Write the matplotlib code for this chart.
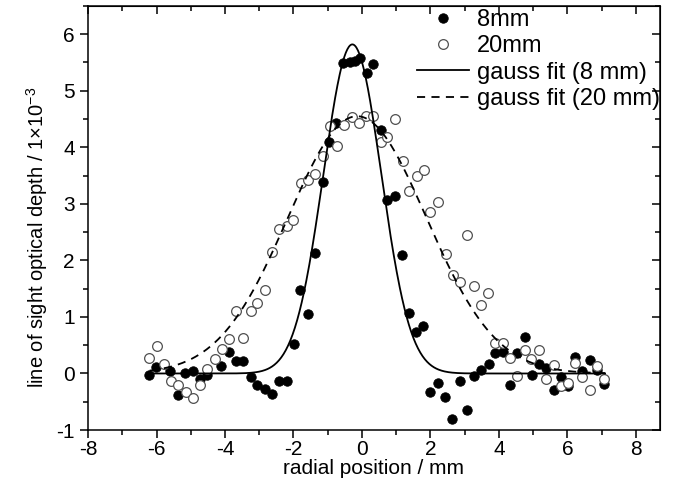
import numpy as np
import matplotlib
matplotlib.use("Agg")
import matplotlib.pyplot as plt
from matplotlib.ticker import MultipleLocator

plt.rcParams['font.family'] = ['Liberation Sans', 'DejaVu Sans']
plt.rcParams['axes.unicode_minus'] = False
plt.rcParams['mathtext.fontset'] = 'custom'
plt.rcParams['mathtext.rm'] = 'Liberation Sans'

# 8 mm data (filled circles)
x_8mm = [-6.21, -6.01, -5.61, -5.37, -5.16, -4.94, -4.73, -4.52, -4.11, -3.87,
         -3.68, -3.47, -3.25, -3.06, -2.84, -2.63, -2.41, -2.20, -1.99, -1.80,
         -1.57, -1.36, -1.15, -0.95, -0.75, -0.55, -0.35, -0.20, -0.06, 0.14,
         0.33, 0.55, 0.72, 0.96, 1.17, 1.38, 1.58, 1.79, 2.00, 2.23,
         2.42, 2.64, 2.86, 3.08, 3.28, 3.48, 3.71, 3.90, 4.13, 4.32,
         4.54, 4.76, 4.96, 5.18, 5.37, 5.61, 5.81, 6.02, 6.23, 6.44,
         6.66, 6.85, 7.07]
y_8mm = [-0.03, 0.12, 0.05, -0.38, 0.01, 0.05, -0.10, -0.03, 0.13, 0.38,
         0.22, 0.22, -0.06, -0.20, -0.28, -0.36, -0.13, -0.13, 0.52, 1.47,
         1.05, 2.13, 3.39, 4.10, 4.43, 5.49, 5.51, 5.52, 5.58, 5.31,
         5.47, 4.31, 3.07, 3.14, 2.10, 1.07, 0.73, 0.84, -0.32, -0.16,
         -0.41, -0.81, -0.14, -0.65, -0.04, 0.06, 0.17, 0.37, 0.38, -0.21,
         0.36, 0.65, -0.03, 0.17, 0.10, -0.29, -0.06, -0.22, 0.29, 0.05,
         0.24, 0.06, -0.19]

# 20 mm data (open circles)
x_20mm = [-6.21, -5.99, -5.78, -5.59, -5.36, -5.14, -4.92, -4.73, -4.52, -4.30,
          -4.09, -3.89, -3.68, -3.47, -3.25, -3.06, -2.84, -2.63, -2.41, -2.20,
          -2.00, -1.78, -1.57, -1.36, -1.15, -0.93, -0.74, -0.53, -0.30, -0.10,
          0.12, 0.33, 0.55, 0.74, 0.96, 1.19, 1.38, 1.60, 1.80, 2.00,
          2.23, 2.45, 2.65, 2.85, 3.08, 3.27, 3.49, 3.69, 3.90, 4.13,
          4.33, 4.54, 4.76, 4.95, 5.18, 5.37, 5.61, 5.81, 6.02, 6.23,
          6.44, 6.66, 6.85, 7.07]
y_20mm = [0.28, 0.49, 0.16, -0.13, -0.21, -0.33, -0.44, -0.21, 0.08, 0.26,
          0.43, 0.61, 1.11, 0.62, 1.11, 1.25, 1.47, 2.15, 2.55, 2.60,
          2.71, 3.37, 3.43, 3.53, 3.85, 4.37, 4.02, 4.40, 4.53, 4.43,
          4.55, 4.55, 4.10, 4.18, 4.50, 3.75, 3.23, 3.50, 3.60, 2.85,
          3.04, 2.12, 1.74, 1.62, 2.45, 1.54, 1.21, 1.43, 0.54, 0.54,
          0.28, -0.04, 0.42, 0.26, 0.42, -0.09, 0.15, -0.23, -0.16, 0.18,
          -0.06, -0.29, 0.13, -0.09]

# Gauss fit parameters (amplitude, centre, sigma)
fit_8mm = (5.82, -0.28, 0.845)
fit_20mm = (4.55, -0.14, 2.02)
fit_range = (-6.2, 7.1)

def gauss(x, a, xc, s):
    return a * np.exp(-(x - xc) ** 2 / (2 * s ** 2))

fig = plt.figure(figsize=(6.74, 4.96), dpi=100)
ax = fig.add_axes([0.1306, 0.133, 0.8484, 0.855])

xf = np.linspace(fit_range[0], fit_range[1], 600)
ax.plot(x_8mm, y_8mm, 'o', color='black', markersize=6.8, markeredgewidth=0.6,
        label='8mm', zorder=3)
ax.plot(x_20mm, y_20mm, 'o', markerfacecolor='white', markeredgecolor='#505050',
        markersize=7.0, markeredgewidth=0.9, label='20mm', zorder=3)
ax.plot(xf, gauss(xf, *fit_8mm), '-', color='black', lw=1.3,
        label='gauss fit (8 mm)', zorder=4)
ax.plot(xf, gauss(xf, *fit_20mm), '--', color='black', lw=1.3,
        dashes=(4.5, 3.5), label='gauss fit (20 mm)', zorder=4)

ax.set_xlim(-8, 8.7)
ax.set_ylim(-1, 6.5)
ax.xaxis.set_major_locator(MultipleLocator(2))
ax.xaxis.set_minor_locator(MultipleLocator(1))
ax.yaxis.set_major_locator(MultipleLocator(1))
ax.yaxis.set_minor_locator(MultipleLocator(0.5))
ax.tick_params(which='both', direction='out', top=False, right=False,
               labelsize=15, width=1.1)
ax.tick_params(axis='x', pad=1.5)
ax.tick_params(which='major', length=6)
ax.tick_params(which='minor', length=3.5)

# mirrored inward ticks on top and right
axt = ax.secondary_xaxis('top')
axt.xaxis.set_major_locator(MultipleLocator(2))
axt.xaxis.set_minor_locator(MultipleLocator(1))
axt.tick_params(which='both', direction='in', labeltop=False, width=1.1)
axt.tick_params(which='major', length=6)
axt.tick_params(which='minor', length=3.5)
axr = ax.secondary_yaxis('right')
axr.yaxis.set_major_locator(MultipleLocator(1))
axr.yaxis.set_minor_locator(MultipleLocator(0.5))
axr.tick_params(which='both', direction='in', labelright=False, width=1.1)
axr.tick_params(which='major', length=6)
axr.tick_params(which='minor', length=3.5)

for sp in ax.spines.values():
    sp.set_linewidth(1.1)

ax.set_xlabel('radial position / mm', fontsize=15, labelpad=-0.5)
ax.set_ylabel('line of sight optical depth / 1\u00d710$^{\\mathrm{-3}}$', fontsize=14.5,
              labelpad=3)
ax.yaxis.set_label_coords(-0.066, 0.455)

leg = ax.legend(loc='upper right', frameon=False, fontsize=17, handlelength=2.2,
                borderaxespad=0.0, labelspacing=0.18, handletextpad=0.35,
                bbox_to_anchor=(1.017, 1.015))

fig.savefig('out.png', dpi=100)
